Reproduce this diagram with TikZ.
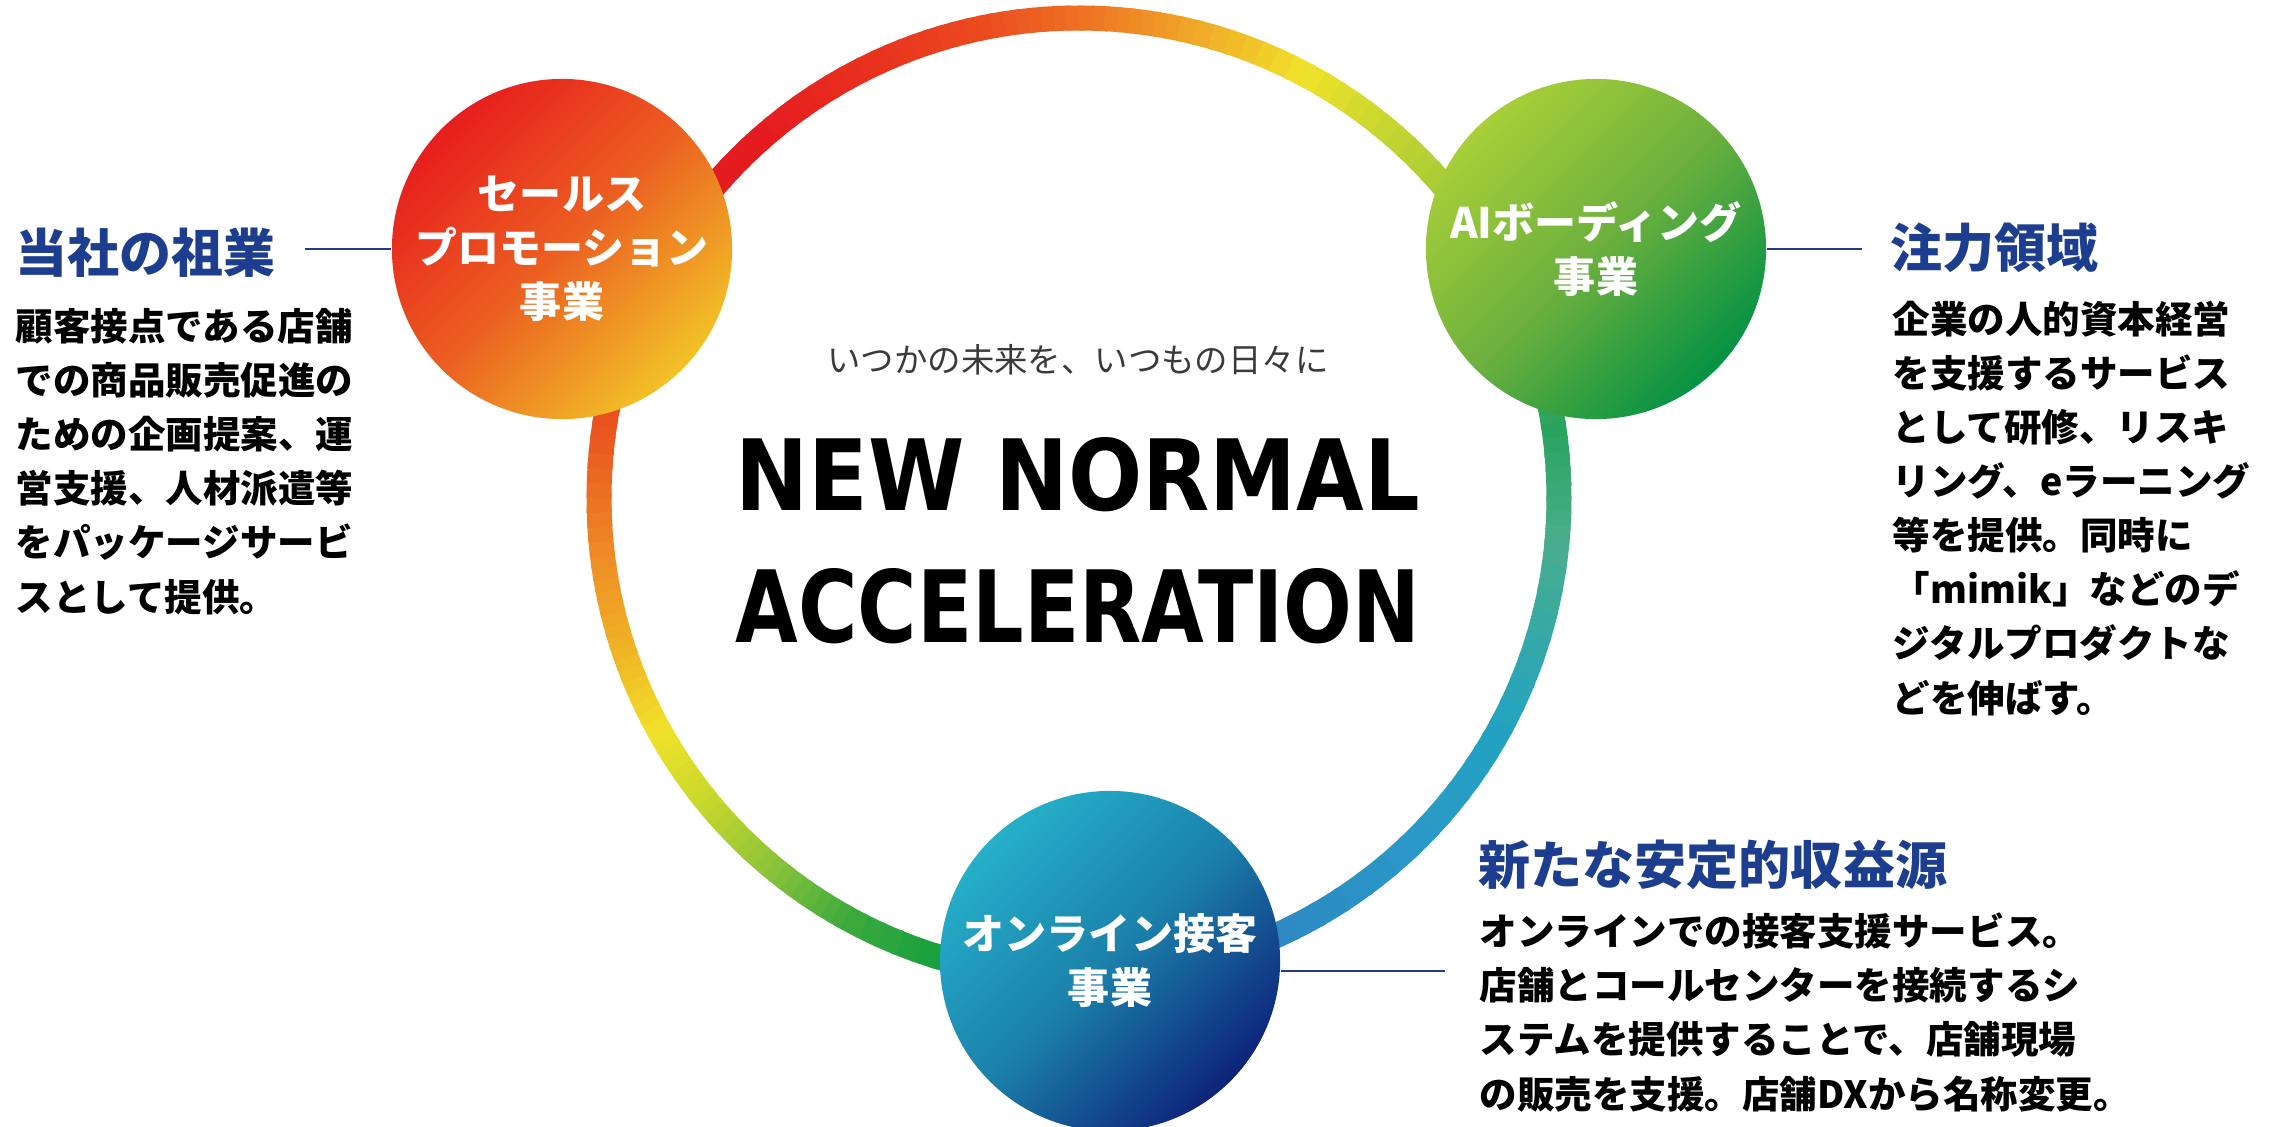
\documentclass[tikz,border=0pt]{standalone}
\usepackage{fontspec}
\newfontfamily\jpfont{Noto Sans CJK JP}
\newfontfamily\dinfont{DejaVu Sans}

\definecolor{headBlue}{HTML}{1D3E8E}
\definecolor{mottoGray}{HTML}{3A3A3A}
% circle gradients
\definecolor{salesA}{HTML}{E71E1E}
\definecolor{salesB}{HTML}{EB6021}
\definecolor{salesC}{HTML}{F2C227}
\definecolor{aiA}{HTML}{A7CF38}
\definecolor{aiB}{HTML}{6CB03E}
\definecolor{aiC}{HTML}{069244}
\definecolor{onA}{HTML}{25AFC9}
\definecolor{onB}{HTML}{1B80AA}
\definecolor{onC}{HTML}{0E2379}
% ring colours, by angle
\definecolor{ring100}{HTML}{009B40}
\definecolor{ring119}{HTML}{3EAA3C}
\definecolor{ring130}{HTML}{8DC43A}
\definecolor{ring141}{HTML}{C8D82C}
\definecolor{ring151}{HTML}{F0E22A}
\definecolor{ring162}{HTML}{EFB225}
\definecolor{ring173}{HTML}{EE8C26}
\definecolor{ring187}{HTML}{E9581F}
\definecolor{ring200}{HTML}{E63A1F}
\definecolor{ring215}{HTML}{E41B1F}
\definecolor{ring228}{HTML}{E41B1F}
\definecolor{ring245}{HTML}{E8321F}
\definecolor{ring258}{HTML}{EA4A20}
\definecolor{ring270}{HTML}{EE7022}
\definecolor{ring282}{HTML}{F0A028}
\definecolor{ring298}{HTML}{F0E22A}
\definecolor{ring315}{HTML}{B5D033}
\definecolor{ring330}{HTML}{8CC03C}
\definecolor{ring351}{HTML}{27A35C}
\definecolor{ring365}{HTML}{4AAE8C}
\definecolor{ring388}{HTML}{22A3C0}
\definecolor{ring403}{HTML}{2A9AC8}
\definecolor{ring430}{HTML}{2E86C1}

\begin{document}
\begin{tikzpicture}[
  x=0.01cm, y=-0.01cm,
  bub/.style={circle, minimum size=3.4cm, inner sep=0pt, align=center, text=white,
    font=\jpfont\bfseries\fontsize{11.95pt}{15.36pt}\selectfont},
  head/.style={anchor=base west, inner sep=0pt, text=headBlue,
    font=\jpfont\bfseries\fontsize{14.8pt}{18pt}\selectfont},
  body/.style={anchor=base west, inner sep=0pt, align=left,
    font=\jpfont\bfseries\fontsize{10.67pt}{15.36pt}\selectfont},
  link/.style={draw=headBlue, line width=0.6pt},
  ring/.style={line width=0.25cm}
]

\useasboundingbox (0,0) rectangle (2277,1127);

% gradient ring
\coordinate (ctr) at (1079,498);
\foreach \a/\b in {100/119,119/130,130/141,141/151,151/162,162/173,173/187,187/200,
    200/215,215/228,228/245,245/258,258/270,270/282,282/298,298/315,315/330,
    330/351,351/365,365/388,388/403,403/430}{
  \foreach \i in {0,...,7}{
    \pgfmathsetmacro\angS{\a+(\b-\a)*\i/8}
    \pgfmathsetmacro\angE{\a+(\b-\a)*(\i+1)/8+0.6}
    \pgfmathsetmacro\pct{12.5*\i+6.25}
    \draw[ring, color=ring\b!\pct!ring\a] (ctr) ++(\angS:480)
      arc[start angle=\angS, end angle=\angE, radius=480];
  }
}

% business circles
\node[bub, top color=salesA, bottom color=salesC, middle color=salesB, shading angle=45]
  (sales) at (562,249) {セールス\\プロモーション\\事業};
\node[bub, top color=aiA, bottom color=aiC, middle color=aiB, shading angle=45]
  (aiBoard) at (1596,249) {AIボーディング\\事業};
\node[bub, top color=onA, bottom color=onC, middle color=onB, shading angle=45]
  (online) at (1110,961) {オンライン接客\\事業};

% centre
\node[inner sep=0pt, text=mottoGray, font=\jpfont\fontsize{9.5pt}{12pt}\selectfont]
  (motto) at (1078,360) {いつかの未来を、いつもの日々に};
\node[inner sep=0pt] (newNorm) at (1078,474.5)
  {\resizebox{6.84cm}{0.73cm}{\dinfont\bfseries NEW NORMAL}};
\node[inner sep=0pt] (accel) at (1078,606)
  {\resizebox{6.84cm}{0.74cm}{\dinfont\bfseries ACCELERATION}};

% descriptions (body nodes sit on the baseline of their last line)
\node[head] (headL) at (15,272) {当社の祖業};
\node[body] (bodyL) at (15,611) {顧客接点である店舗\\での商品販売促進の\\ための企画提案、運\\営支援、人材派遣等\\をパッケージサービ\\スとして提供。};

\node[head] (headR) at (1890,267) {注力領域};
\node[body] (bodyR) at (1892,712) {企業の人的資本経営\\を支援するサービス\\として研修、リスキ\\リング、eラーニング\\等を提供。同時に\\「mimik」などのデ\\ジタルプロダクトな\\どを伸ばす。};

\node[head] (headB) at (1478,884) {新たな安定的収益源};
\node[body] (bodyB) at (1479,1108) {オンラインでの接客支援サービス。\\店舗とコールセンターを接続するシ\\ステムを提供することで、店舗現場\\の販売を支援。店舗DXから名称変更。};

% leader lines
\coordinate (lineL) at (305,249);
\coordinate (lineR) at (1862,249);
\coordinate (lineB) at (1445,971);
\draw[link] (sales) -- (lineL);
\draw[link] (aiBoard) -- (lineR);
\draw[link] (online.east |- lineB) -- (lineB);

\end{tikzpicture}
\end{document}
